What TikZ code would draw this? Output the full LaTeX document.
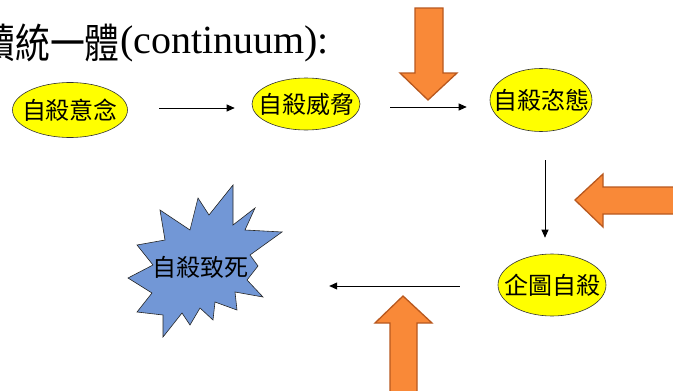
\documentclass[tikz,border=0pt]{standalone}
\usepackage{fontspec}
\setmainfont{Liberation Serif}
\newfontfamily\cjk{Noto Sans CJK TC}
\newfontfamily\cjktitle[FakeStretch=0.85]{Noto Sans CJK TC}
\usetikzlibrary{shapes.geometric,arrows.meta}
\definecolor{bubbleyellow}{RGB}{255,255,0}
\definecolor{arrowfill}{RGB}{249,137,56}
\definecolor{arrowline}{RGB}{184,88,30}
\definecolor{burstblue}{RGB}{114,151,214}
\tikzset{
  bubble/.style={shape=ellipse,draw=black!80,fill=bubbleyellow,line width=0.6pt,inner sep=0pt},
  word/.style={inner sep=0pt,font=\cjk\fontsize{24}{24}\selectfont},
  flow/.style={-{Triangle[length=8pt,width=7pt]},line width=0.9pt},
  blockarrow/.style={fill=arrowfill,draw=arrowline,line width=1.3pt},
  burst/.style={fill=burstblue,draw=black!85,line width=0.6pt}
}
\begin{document}
\begin{tikzpicture}[x=1pt,y=-1pt]
\useasboundingbox (0,0) rectangle (673,391);
\clip (0,0) rectangle (673,391);

% title line
\node[inner sep=0pt,anchor=base east,font=\cjktitle\fontsize{41}{41}\selectfont] (title) at (120,58) {續統一體};
\node[inner sep=0pt,anchor=base west,font=\fontsize{40}{40}\selectfont] (title-lat) at (120,53) {(continuum):};

% stages
\node[bubble,minimum width=115pt,minimum height=55pt] (idea) at (70,110) {};
\node[word] (idea-t) at (idea) {自殺意念};
\node[bubble,minimum width=108pt,minimum height=52pt] (threat) at (306,104) {};
\node[word] (threat-t) at (threat) {自殺威脅};
\node[bubble,minimum width=102pt,minimum height=63pt] (gesture) at (541,100) {};
\node[word] (gesture-t) at (gesture) {自殺恣態};
\node[bubble,minimum width=108pt,minimum height=62pt] (plan) at (552,285) {};
\node[word] (plan-t) at (plan) {企圖自殺};

% the burst
\draw[burst] (137,245) -- (165,240) -- (160,210) -- (190,230) -- (198,198) -- (209,215)
  -- (233,185) -- (233,225) -- (255,208) -- (245,230) -- (282,232) -- (250,255)
  -- (258,266) -- (247,280) -- (263,297) -- (235,292) -- (237,310) -- (215,302)
  -- (213,320) -- (200,308) -- (190,325) -- (182,313) -- (163,337) -- (163,315)
  -- (137,312) -- (152,293) -- (128,278) -- (153,265) -- cycle;
\node[word] (death) at (200,267) {自殺致死};

% flow
\draw[flow,shorten <=31.5pt,shorten >=17pt] ([yshift=2pt]idea.east) -- ([yshift=2pt]idea.east -| threat.west);
\draw[flow,shorten <=30pt,shorten >=23pt] ([yshift=-3pt]threat.east) -- ([yshift=-3pt]threat.east -| gesture.west);
\draw[flow,shorten <=28.5pt,shorten >=16pt] ([xshift=4pt]gesture.south) -- ([xshift=4pt]gesture.south |- plan.north);
\draw[flow,shorten <=38pt,shorten >=81pt] ([yshift=-1pt]plan.west) -- ([yshift=-1pt]plan.west -| death.east);

% pushing arrows
\draw[blockarrow] (415,8) -- (443,8) -- (443,73) -- (457,73) -- (428,100) -- (400,73) -- (415,73) -- cycle;
\draw[blockarrow] (575,200) -- (603,174) -- (603,187) -- (690,187) -- (690,214) -- (603,214) -- (603,227) -- cycle;
\draw[blockarrow] (403,296) -- (432,323) -- (417,323) -- (417,400) -- (390,400) -- (390,323) -- (375,323) -- cycle;
\end{tikzpicture}
\end{document}
